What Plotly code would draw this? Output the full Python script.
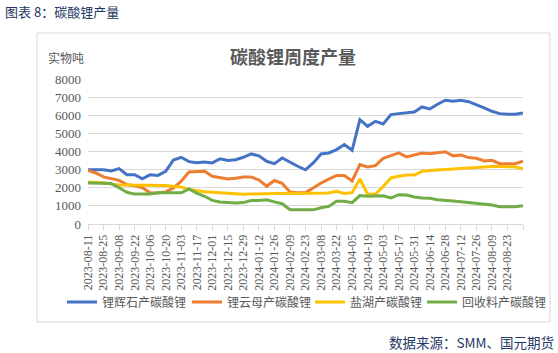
import pandas as pd
import plotly.graph_objects as go

# ---------------- data ----------------
dates = pd.date_range("2023-08-11", periods=57, freq="7D")
date_labels = [d.strftime("%Y-%m-%d") for d in dates]

spodumene = [3000, 3000, 2990, 2930, 3060, 2720, 2720, 2490, 2720, 2680,
             2900, 3530, 3680, 3440, 3380, 3420, 3370, 3600, 3500, 3550,
             3680, 3866, 3760, 3460, 3330, 3645, 3405, 3185, 2990, 3370,
             3866, 3920, 4105, 4380, 4066, 5760, 5390, 5665, 5520, 6034,
             6090, 6126, 6180, 6458, 6347, 6610, 6826, 6770, 6826, 6750,
             6590, 6403, 6218, 6090, 6053, 6053, 6126]
lepidolite = [2960, 2815, 2600, 2485, 2410, 2170, 2115, 2000, 1720, 1710,
              1770, 1990, 2360, 2870, 2870, 2905, 2630, 2540, 2485, 2530,
              2590, 2596, 2430, 2081, 2400, 2240, 1770, 1730, 1730, 1990,
              2260, 2480, 2680, 2670, 2375, 3276, 3148, 3220, 3620, 3773,
              3920, 3700, 3815, 3920, 3883, 3920, 3990, 3760, 3800, 3663,
              3626, 3480, 3515, 3331, 3331, 3331, 3460]
salt_lake = [2300, 2290, 2270, 2200, 2150, 2150, 2150, 2150, 2150, 2150,
             2130, 2080, 2040, 1900, 1830, 1780, 1750, 1720, 1680, 1650,
             1640, 1650, 1660, 1690, 1710, 1710, 1690, 1680, 1680, 1680,
             1680, 1710, 1800, 1690, 1730, 2480, 1640, 1640, 2070, 2541,
             2640, 2700, 2700, 2905, 2946, 2975, 3020, 3038, 3075, 3093,
             3110, 3130, 3167, 3167, 3167, 3150, 3040]
recycled = [2260, 2250, 2250, 2230, 2000, 1750, 1650, 1630, 1650, 1720,
            1720, 1720, 1720, 1940, 1700, 1530, 1300, 1220, 1180, 1160,
            1180, 1290, 1300, 1340, 1220, 1120, 790, 780, 780, 780,
            900, 970, 1250, 1250, 1175, 1566, 1525, 1525, 1560, 1434,
            1618, 1600, 1489, 1434, 1416, 1342, 1287, 1269, 1232, 1195,
            1158, 1103, 1048, 955, 937, 955, 1010]

series_names = ["锂辉石产碳酸锂", "锂云母产碳酸锂", "盐湖产碳酸锂", "回收料产碳酸锂"]
series_values = [spodumene, lepidolite, salt_lake, recycled]
series_colors = ["#4472C4", "#ED7D31", "#FFC000", "#70AD47"]
legend_widths = [80, 78, 67, 80]

y_ticks = [0, 1000, 2000, 3000, 4000, 5000, 6000, 7000, 8000]

# ---------------- geometry ----------------
W, H = 558, 353
L, R, T, B = 88, 35, 79, 129
PW, PH = W - L - R, H - T - B


def px_x(p):
    return (p - L) / PW


def px_y(p):
    return (T + PH - p) / PH


fig = go.Figure()
for name, vals, col, lw in zip(series_names, series_values, series_colors, legend_widths):
    fig.add_trace(go.Scatter(x=dates, y=vals, name=name, mode="lines",
                             legendwidth=lw,
                             line=dict(color=col, width=3)))

tickvals = list(dates[::2])
ticktext = [date_labels[i] if i < len(dates) - 1 else "" for i in range(0, len(dates), 2)]

fig.update_layout(
    width=W, height=H,
    margin=dict(l=L, r=R, t=T, b=B, autoexpand=False),
    paper_bgcolor="white", plot_bgcolor="white",
    font=dict(family="Noto Sans CJK SC", color="#595959", size=12),
    showlegend=True,
    legend=dict(orientation="h", x=px_x(62), xanchor="left",
                y=px_y(302), yanchor="middle",
                font=dict(family="Noto Sans CJK SC", size=12, color="#595959"),
                bgcolor="rgba(0,0,0,0)", itemwidth=30,
                entrywidthmode="pixels"),
    xaxis=dict(type="date", range=[dates[0], dates[-1]],
               tickmode="array", tickvals=tickvals, ticktext=ticktext,
               tickangle=-90, showgrid=False, zeroline=False,
               showline=True, linecolor="#D9D9D9", linewidth=1,
               ticks="outside", ticklen=5, tickcolor="#D9D9D9",
               tickfont=dict(family="Liberation Serif", size=12, color="#595959")),
    yaxis=dict(range=[0, 8000], tickmode="array", tickvals=y_ticks,
               showgrid=True, gridcolor="#D9D9D9", gridwidth=1,
               zeroline=False, showline=False, ticks="",
               ticklabelstandoff=6,
               tickfont=dict(family="Liberation Serif", size=13, color="#595959")),
    shapes=[dict(type="rect", xref="paper", yref="paper",
                 x0=px_x(37), x1=px_x(550), y0=px_y(322), y1=px_y(33),
                 line=dict(color="#D9D9D9", width=1), layer="below")],
    annotations=[
        dict(text="图表 8：碳酸锂产量", xref="paper", yref="paper",
             x=px_x(3), y=px_y(11), xanchor="left", yanchor="middle",
             showarrow=False,
             font=dict(family="Noto Sans CJK SC", size=13, color="#1F3864")),
        dict(text="实物吨", xref="paper", yref="paper",
             x=px_x(46), y=px_y(58), xanchor="left", yanchor="middle",
             showarrow=False,
             font=dict(family="Noto Sans CJK SC", size=12, color="#595959")),
        dict(text="<b>碳酸锂周度产量</b>", xref="paper", yref="paper",
             x=px_x(293), y=px_y(56), xanchor="center", yanchor="middle",
             showarrow=False,
             font=dict(family="Noto Sans CJK SC", size=18, color="#595959")),
        dict(text="数据来源：SMM、国元期货", xref="paper", yref="paper",
             x=px_x(556), y=px_y(342), xanchor="right", yanchor="middle",
             showarrow=False,
             font=dict(family="Noto Sans CJK SC", size=13.5, color="#1F3864")),
    ],
)

fig.write_html("out.html")
